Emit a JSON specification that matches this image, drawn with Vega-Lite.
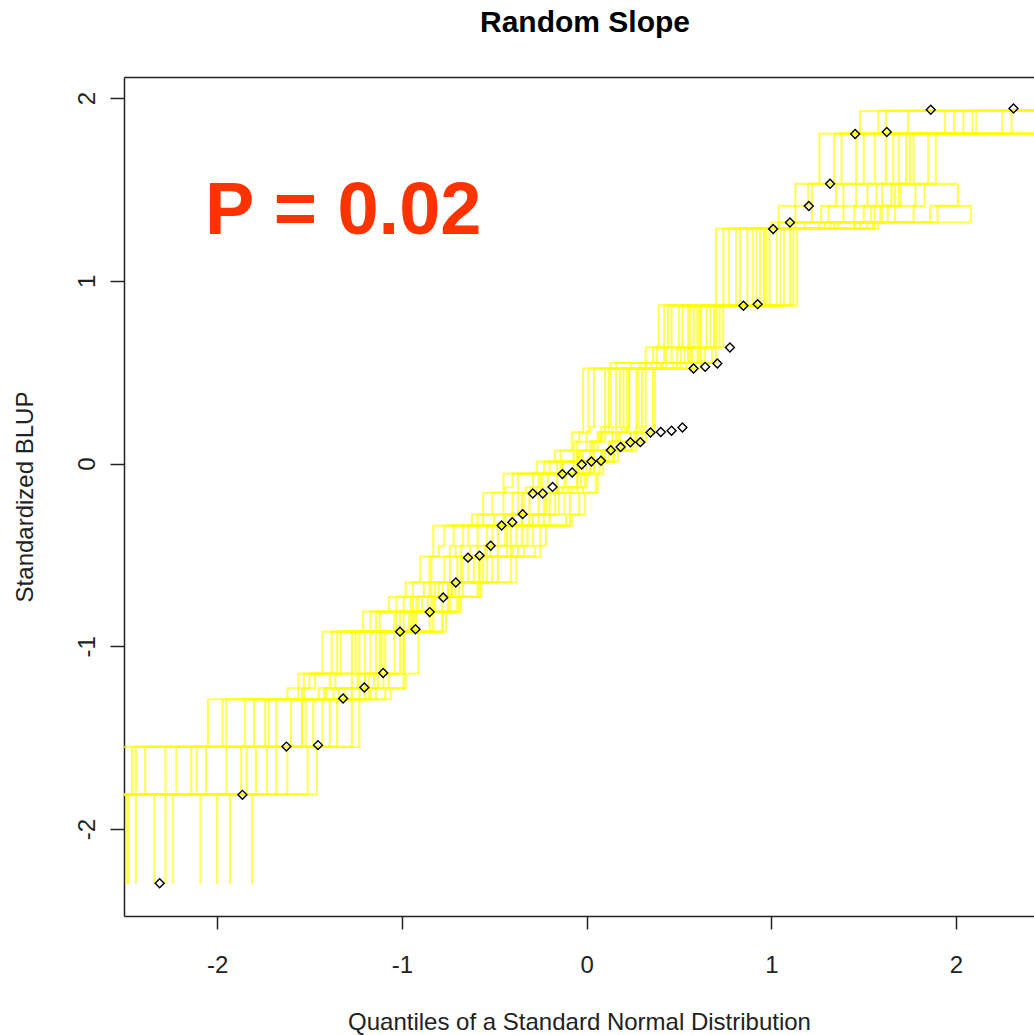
{
"$schema": "https://vega.github.io/schema/vega-lite/v6.json",
"width": 910, "height": 839,
"autosize": "none",
"padding": {"left": 124, "top": 77, "right": 0, "bottom": 119},
"background": "white",
"config": {"view": {"stroke": null}, "font": "Liberation Sans"},
"title": {"text": "Random Slope", "fontSize": 30, "fontWeight": "bold", "font": "Liberation Sans", "color": "#000000", "anchor": "middle", "dx": 6, "offset": 39},
"datasets": {
"env": [
{"s":1,"x":-2.6,"y":-1.55},{"s":1,"x":-2.05,"y":-1.29},{"s":1,"x":-1.62,"y":-1.23},{"s":1,"x":-1.56,"y":-1.15},{"s":1,"x":-1.43,"y":-0.92},{"s":1,"x":-1.21,"y":-0.81},{"s":1,"x":-1.07,"y":-0.73},{"s":1,"x":-0.98,"y":-0.65},{"s":1,"x":-0.9,"y":-0.51},{"s":1,"x":-0.83,"y":-0.34},{"s":1,"x":-0.56,"y":-0.16},{"s":1,"x":-0.45,"y":-0.055},{"s":1,"x":-0.27,"y":0.01},{"s":1,"x":-0.17,"y":0.07},{"s":1,"x":-0.08,"y":0.17},{"s":1,"x":-0.02,"y":0.52},{"s":1,"x":0.32,"y":0.635},{"s":1,"x":0.39,"y":0.865},{"s":1,"x":0.7,"y":1.285},{"s":1,"x":1.04,"y":1.41},{"s":1,"x":1.13,"y":1.53},{"s":1,"x":1.26,"y":1.805},{"s":1,"x":1.48,"y":1.93},{"s":1,"x":2.6,"y":1.93},
{"s":2,"x":-1.81,"y":-2.3},{"s":2,"x":-1.81,"y":-1.81},{"s":2,"x":-1.46,"y":-1.55},{"s":2,"x":-1.23,"y":-1.29},{"s":2,"x":-1.06,"y":-1.23},{"s":2,"x":-0.98,"y":-1.15},{"s":2,"x":-0.91,"y":-0.92},{"s":2,"x":-0.76,"y":-0.81},{"s":2,"x":-0.68,"y":-0.73},{"s":2,"x":-0.57,"y":-0.65},{"s":2,"x":-0.38,"y":-0.51},{"s":2,"x":-0.25,"y":-0.34},{"s":2,"x":-0.08,"y":-0.28},{"s":2,"x":-0.01,"y":-0.16},{"s":2,"x":0.06,"y":-0.055},{"s":2,"x":0.09,"y":0.01},{"s":2,"x":0.17,"y":0.07},{"s":2,"x":0.27,"y":0.12},{"s":2,"x":0.32,"y":0.17},{"s":2,"x":0.37,"y":0.52},{"s":2,"x":0.62,"y":0.55},{"s":2,"x":0.7,"y":0.635},{"s":2,"x":0.74,"y":0.865},{"s":2,"x":1.14,"y":1.285},{"s":2,"x":1.58,"y":1.32},{"s":2,"x":2.08,"y":1.41},
{"s":3,"x":-2.48,"y":-2.3},{"s":3,"x":-2.48,"y":-1.81},{"s":3,"x":-2.39,"y":-1.55},{"s":3,"x":-1.95,"y":-1.29},{"s":3,"x":-1.53,"y":-1.15},{"s":3,"x":-1.35,"y":-0.92},{"s":3,"x":-1.14,"y":-0.81},{"s":3,"x":-0.94,"y":-0.65},{"s":3,"x":-0.84,"y":-0.51},{"s":3,"x":-0.74,"y":-0.45},{"s":3,"x":-0.72,"y":-0.34},{"s":3,"x":-0.59,"y":-0.28},{"s":3,"x":-0.45,"y":-0.16},{"s":3,"x":-0.37,"y":-0.055},{"s":3,"x":-0.2,"y":0.01},{"s":3,"x":-0.05,"y":0.12},{"s":3,"x":0.0,"y":0.17},{"s":3,"x":0.02,"y":0.2},{"s":3,"x":0.04,"y":0.52},{"s":3,"x":0.16,"y":0.55},{"s":3,"x":0.38,"y":0.635},{"s":3,"x":0.44,"y":0.865},{"s":3,"x":0.77,"y":1.285},{"s":3,"x":1.04,"y":1.32},{"s":3,"x":1.22,"y":1.53},{"s":3,"x":1.38,"y":1.805},{"s":3,"x":1.58,"y":1.93},{"s":3,"x":2.6,"y":1.93},
{"s":4,"x":-2.6,"y":-1.81},{"s":4,"x":-2.22,"y":-1.55},{"s":4,"x":-1.8,"y":-1.29},{"s":4,"x":-1.45,"y":-1.23},{"s":4,"x":-1.39,"y":-1.15},{"s":4,"x":-1.27,"y":-0.92},{"s":4,"x":-0.95,"y":-0.73},{"s":4,"x":-0.84,"y":-0.65},{"s":4,"x":-0.74,"y":-0.51},{"s":4,"x":-0.68,"y":-0.45},{"s":4,"x":-0.64,"y":-0.34},{"s":4,"x":-0.4,"y":-0.16},{"s":4,"x":-0.33,"y":-0.13},{"s":4,"x":-0.29,"y":-0.055},{"s":4,"x":-0.16,"y":0.01},{"s":4,"x":-0.07,"y":0.07},{"s":4,"x":0.0,"y":0.12},{"s":4,"x":0.08,"y":0.2},{"s":4,"x":0.1,"y":0.52},{"s":4,"x":0.43,"y":0.635},{"s":4,"x":0.5,"y":0.865},{"s":4,"x":0.83,"y":1.285},{"s":4,"x":1.13,"y":1.32},{"s":4,"x":1.31,"y":1.41},{"s":4,"x":1.39,"y":1.53},{"s":4,"x":1.5,"y":1.805},{"s":4,"x":2.6,"y":1.805},
{"s":5,"x":-2.24,"y":-2.3},{"s":5,"x":-2.24,"y":-1.81},{"s":5,"x":-2.06,"y":-1.55},{"s":5,"x":-1.68,"y":-1.29},{"s":5,"x":-1.37,"y":-1.23},{"s":5,"x":-1.2,"y":-0.92},{"s":5,"x":-1.01,"y":-0.81},{"s":5,"x":-0.89,"y":-0.73},{"s":5,"x":-0.8,"y":-0.65},{"s":5,"x":-0.67,"y":-0.51},{"s":5,"x":-0.54,"y":-0.34},{"s":5,"x":-0.41,"y":-0.28},{"s":5,"x":-0.31,"y":-0.16},{"s":5,"x":-0.24,"y":-0.13},{"s":5,"x":-0.21,"y":-0.055},{"s":5,"x":-0.02,"y":0.07},{"s":5,"x":0.06,"y":0.12},{"s":5,"x":0.1,"y":0.17},{"s":5,"x":0.16,"y":0.52},{"s":5,"x":0.32,"y":0.55},{"s":5,"x":0.49,"y":0.635},{"s":5,"x":0.55,"y":0.865},{"s":5,"x":0.9,"y":1.285},{"s":5,"x":1.45,"y":1.41},{"s":5,"x":1.52,"y":1.53},{"s":5,"x":1.62,"y":1.805},{"s":5,"x":1.94,"y":1.93},{"s":5,"x":2.6,"y":1.93},
{"s":6,"x":-2.6,"y":-1.81},{"s":6,"x":-1.95,"y":-1.55},{"s":6,"x":-1.6,"y":-1.29},{"s":6,"x":-1.31,"y":-1.23},{"s":6,"x":-1.24,"y":-1.15},{"s":6,"x":-1.14,"y":-0.92},{"s":6,"x":-0.96,"y":-0.81},{"s":6,"x":-0.75,"y":-0.65},{"s":6,"x":-0.61,"y":-0.51},{"s":6,"x":-0.52,"y":-0.45},{"s":6,"x":-0.48,"y":-0.34},{"s":6,"x":-0.35,"y":-0.28},{"s":6,"x":-0.26,"y":-0.16},{"s":6,"x":-0.16,"y":-0.055},{"s":6,"x":-0.07,"y":0.01},{"s":6,"x":0.02,"y":0.07},{"s":6,"x":0.14,"y":0.17},{"s":6,"x":0.19,"y":0.2},{"s":6,"x":0.2,"y":0.52},{"s":6,"x":0.38,"y":0.55},{"s":6,"x":0.53,"y":0.635},{"s":6,"x":0.58,"y":0.865},{"s":6,"x":0.94,"y":1.285},{"s":6,"x":1.29,"y":1.32},{"s":6,"x":1.54,"y":1.41},{"s":6,"x":1.69,"y":1.805},{"s":6,"x":2.04,"y":1.93},{"s":6,"x":2.6,"y":1.93},
{"s":7,"x":-2.09,"y":-2.3},{"s":7,"x":-2.09,"y":-1.81},{"s":7,"x":-1.84,"y":-1.55},{"s":7,"x":-1.52,"y":-1.29},{"s":7,"x":-1.18,"y":-1.15},{"s":7,"x":-1.09,"y":-0.92},{"s":7,"x":-0.92,"y":-0.81},{"s":7,"x":-0.82,"y":-0.73},{"s":7,"x":-0.71,"y":-0.65},{"s":7,"x":-0.56,"y":-0.51},{"s":7,"x":-0.41,"y":-0.34},{"s":7,"x":-0.29,"y":-0.28},{"s":7,"x":-0.2,"y":-0.16},{"s":7,"x":-0.13,"y":-0.13},{"s":7,"x":-0.11,"y":-0.055},{"s":7,"x":-0.04,"y":0.01},{"s":7,"x":0.14,"y":0.12},{"s":7,"x":0.18,"y":0.17},{"s":7,"x":0.23,"y":0.52},{"s":7,"x":0.57,"y":0.635},{"s":7,"x":0.62,"y":0.865},{"s":7,"x":0.99,"y":1.285},{"s":7,"x":1.36,"y":1.32},{"s":7,"x":1.63,"y":1.41},{"s":7,"x":1.7,"y":1.53},{"s":7,"x":1.77,"y":1.805},{"s":7,"x":2.6,"y":1.805},
{"s":8,"x":-2.6,"y":-1.81},{"s":8,"x":-1.73,"y":-1.55},{"s":8,"x":-1.43,"y":-1.29},{"s":8,"x":-1.2,"y":-1.23},{"s":8,"x":-1.13,"y":-1.15},{"s":8,"x":-1.04,"y":-0.92},{"s":8,"x":-0.78,"y":-0.73},{"s":8,"x":-0.67,"y":-0.65},{"s":8,"x":-0.51,"y":-0.51},{"s":8,"x":-0.4,"y":-0.45},{"s":8,"x":-0.35,"y":-0.34},{"s":8,"x":-0.23,"y":-0.28},{"s":8,"x":-0.15,"y":-0.16},{"s":8,"x":-0.08,"y":-0.13},{"s":8,"x":-0.05,"y":-0.055},{"s":8,"x":0.0,"y":0.01},{"s":8,"x":0.09,"y":0.07},{"s":8,"x":0.18,"y":0.12},{"s":8,"x":0.27,"y":0.2},{"s":8,"x":0.28,"y":0.52},{"s":8,"x":0.49,"y":0.55},{"s":8,"x":0.61,"y":0.635},{"s":8,"x":0.65,"y":0.865},{"s":8,"x":1.03,"y":1.285},{"s":8,"x":1.56,"y":1.41},{"s":8,"x":1.78,"y":1.53},{"s":8,"x":1.85,"y":1.805},{"s":8,"x":2.25,"y":1.93},{"s":8,"x":2.6,"y":1.93},
{"s":9,"x":-1.93,"y":-2.3},{"s":9,"x":-1.93,"y":-1.81},{"s":9,"x":-1.62,"y":-1.55},{"s":9,"x":-1.35,"y":-1.29},{"s":9,"x":-1.14,"y":-1.23},{"s":9,"x":-1.07,"y":-1.15},{"s":9,"x":-0.99,"y":-0.92},{"s":9,"x":-0.83,"y":-0.81},{"s":9,"x":-0.74,"y":-0.73},{"s":9,"x":-0.58,"y":-0.51},{"s":9,"x":-0.34,"y":-0.45},{"s":9,"x":-0.29,"y":-0.34},{"s":9,"x":-0.09,"y":-0.16},{"s":9,"x":-0.02,"y":-0.13},{"s":9,"x":0.0,"y":-0.055},{"s":9,"x":0.04,"y":0.01},{"s":9,"x":0.12,"y":0.07},{"s":9,"x":0.21,"y":0.12},{"s":9,"x":0.26,"y":0.17},{"s":9,"x":0.31,"y":0.2},{"s":9,"x":0.32,"y":0.52},{"s":9,"x":0.54,"y":0.55},{"s":9,"x":0.64,"y":0.635},{"s":9,"x":0.69,"y":0.865},{"s":9,"x":1.07,"y":1.285},{"s":9,"x":1.48,"y":1.32},{"s":9,"x":1.6,"y":1.53},{"s":9,"x":2.01,"y":1.53},
{"s":10,"x":-2.6,"y":-1.81},{"s":10,"x":-1.51,"y":-1.55},{"s":10,"x":-1.27,"y":-1.29},{"s":10,"x":-1.09,"y":-1.23},{"s":10,"x":-0.99,"y":-0.92},{"s":10,"x":-0.78,"y":-0.81},{"s":10,"x":-0.7,"y":-0.73},{"s":10,"x":-0.59,"y":-0.65},{"s":10,"x":-0.41,"y":-0.51},{"s":10,"x":-0.28,"y":-0.45},{"s":10,"x":-0.22,"y":-0.34},{"s":10,"x":-0.11,"y":-0.28},{"s":10,"x":-0.04,"y":-0.16},{"s":10,"x":0.05,"y":-0.055},{"s":10,"x":0.07,"y":0.01},{"s":10,"x":0.15,"y":0.07},{"s":10,"x":0.25,"y":0.12},{"s":10,"x":0.3,"y":0.17},{"s":10,"x":0.35,"y":0.2},{"s":10,"x":0.36,"y":0.52},{"s":10,"x":0.59,"y":0.55},{"s":10,"x":0.68,"y":0.635},{"s":10,"x":0.72,"y":0.865},{"s":10,"x":1.12,"y":1.285},{"s":10,"x":1.55,"y":1.32},{"s":10,"x":1.9,"y":1.41},{"s":10,"x":2.01,"y":1.53},
{"s":11,"x":-2.44,"y":-2.3},{"s":11,"x":-2.44,"y":-1.81},{"s":11,"x":-2.28,"y":-1.55},{"s":11,"x":-1.85,"y":-1.29},{"s":11,"x":-1.42,"y":-1.23},{"s":11,"x":-1.36,"y":-1.15},{"s":11,"x":-1.25,"y":-0.92},{"s":11,"x":-1.03,"y":-0.81},{"s":11,"x":-0.91,"y":-0.73},{"s":11,"x":-0.78,"y":-0.65},{"s":11,"x":-0.64,"y":-0.51},{"s":11,"x":-0.55,"y":-0.45},{"s":11,"x":-0.51,"y":-0.34},{"s":11,"x":-0.35,"y":-0.28},{"s":11,"x":-0.23,"y":-0.16},{"s":11,"x":-0.16,"y":-0.13},{"s":11,"x":-0.05,"y":0.01},{"s":11,"x":0.03,"y":0.07},{"s":11,"x":0.12,"y":0.12},{"s":11,"x":0.16,"y":0.17},{"s":11,"x":0.22,"y":0.52},{"s":11,"x":0.4,"y":0.55},{"s":11,"x":0.55,"y":0.635},{"s":11,"x":0.6,"y":0.865},{"s":11,"x":0.96,"y":1.285},{"s":11,"x":1.32,"y":1.32},{"s":11,"x":1.59,"y":1.41},{"s":11,"x":1.65,"y":1.53},{"s":11,"x":1.73,"y":1.805},{"s":11,"x":2.09,"y":1.93},{"s":11,"x":2.6,"y":1.93},
{"s":12,"x":-2.6,"y":-1.81},{"s":12,"x":-1.79,"y":-1.55},{"s":12,"x":-1.48,"y":-1.29},{"s":12,"x":-1.23,"y":-1.23},{"s":12,"x":-1.15,"y":-1.15},{"s":12,"x":-1.12,"y":-0.92},{"s":12,"x":-0.94,"y":-0.81},{"s":12,"x":-0.86,"y":-0.73},{"s":12,"x":-0.75,"y":-0.65},{"s":12,"x":-0.68,"y":-0.51},{"s":12,"x":-0.59,"y":-0.45},{"s":12,"x":-0.44,"y":-0.28},{"s":12,"x":-0.34,"y":-0.16},{"s":12,"x":-0.27,"y":-0.13},{"s":12,"x":-0.24,"y":-0.055},{"s":12,"x":-0.14,"y":0.01},{"s":12,"x":-0.05,"y":0.07},{"s":12,"x":0.02,"y":0.12},{"s":12,"x":0.06,"y":0.17},{"s":12,"x":0.1,"y":0.2},{"s":12,"x":0.12,"y":0.52},{"s":12,"x":0.24,"y":0.55},{"s":12,"x":0.42,"y":0.635},{"s":12,"x":0.46,"y":0.865},{"s":12,"x":0.81,"y":1.285},{"s":12,"x":1.1,"y":1.32},{"s":12,"x":1.27,"y":1.41},{"s":12,"x":1.35,"y":1.53},{"s":12,"x":1.46,"y":1.805},{"s":12,"x":1.74,"y":1.93},{"s":12,"x":2.6,"y":1.93},
{"s":13,"x":-2.28,"y":-2.3},{"s":13,"x":-2.28,"y":-1.81},{"s":13,"x":-2.11,"y":-1.55},{"s":13,"x":-1.72,"y":-1.29},{"s":13,"x":-1.34,"y":-1.23},{"s":13,"x":-1.27,"y":-1.15},{"s":13,"x":-1.17,"y":-0.92},{"s":13,"x":-0.99,"y":-0.81},{"s":13,"x":-0.84,"y":-0.73},{"s":13,"x":-0.73,"y":-0.65},{"s":13,"x":-0.54,"y":-0.51},{"s":13,"x":-0.43,"y":-0.45},{"s":13,"x":-0.38,"y":-0.34},{"s":13,"x":-0.26,"y":-0.28},{"s":13,"x":-0.17,"y":-0.16},{"s":13,"x":-0.1,"y":-0.13},{"s":13,"x":-0.03,"y":-0.055},{"s":13,"x":0.02,"y":0.01},{"s":13,"x":0.1,"y":0.07},{"s":13,"x":0.24,"y":0.17},{"s":13,"x":0.29,"y":0.2},{"s":13,"x":0.3,"y":0.52},{"s":13,"x":0.51,"y":0.55},{"s":13,"x":0.62,"y":0.635},{"s":13,"x":0.7,"y":0.865},{"s":13,"x":1.1,"y":1.285},{"s":13,"x":1.52,"y":1.32},{"s":13,"x":1.86,"y":1.41},{"s":13,"x":2.08,"y":1.41},
{"s":14,"x":-2.49,"y":-2.3},{"s":14,"x":-2.49,"y":-1.81},{"s":14,"x":-2.44,"y":-1.55},{"s":14,"x":-1.54,"y":-1.23},{"s":14,"x":-1.47,"y":-1.15},{"s":14,"x":-1.33,"y":-0.92},{"s":14,"x":-1.12,"y":-0.81},{"s":14,"x":-0.99,"y":-0.73},{"s":14,"x":-0.88,"y":-0.65},{"s":14,"x":-0.77,"y":-0.51},{"s":14,"x":-0.71,"y":-0.45},{"s":14,"x":-0.67,"y":-0.34},{"s":14,"x":-0.5,"y":-0.28},{"s":14,"x":-0.37,"y":-0.16},{"s":14,"x":-0.3,"y":-0.13},{"s":14,"x":-0.26,"y":-0.055},{"s":14,"x":-0.13,"y":0.01},{"s":14,"x":-0.03,"y":0.07},{"s":14,"x":0.04,"y":0.12},{"s":14,"x":0.08,"y":0.17},{"s":14,"x":0.14,"y":0.2},{"s":14,"x":0.18,"y":0.52},{"s":14,"x":0.35,"y":0.55},{"s":14,"x":0.51,"y":0.635},{"s":14,"x":0.56,"y":0.865},{"s":14,"x":0.92,"y":1.285},{"s":14,"x":1.26,"y":1.32},{"s":14,"x":1.5,"y":1.41},{"s":14,"x":1.57,"y":1.53},{"s":14,"x":1.66,"y":1.805},{"s":14,"x":1.99,"y":1.93},{"s":14,"x":2.6,"y":1.93},
{"s":15,"x":-2.6,"y":-1.81},{"s":15,"x":-2.46,"y":-1.55},{"s":15,"x":-1.97,"y":-1.29},{"s":15,"x":-1.56,"y":-1.23},{"s":15,"x":-1.5,"y":-1.15},{"s":15,"x":-1.38,"y":-0.92},{"s":15,"x":-1.17,"y":-0.81},{"s":15,"x":-1.03,"y":-0.73},{"s":15,"x":-0.85,"y":-0.51},{"s":15,"x":-0.8,"y":-0.45},{"s":15,"x":-0.77,"y":-0.34},{"s":15,"x":-0.62,"y":-0.28},{"s":15,"x":-0.51,"y":-0.16},{"s":15,"x":-0.44,"y":-0.13},{"s":15,"x":-0.4,"y":-0.055},{"s":15,"x":-0.23,"y":0.01},{"s":15,"x":-0.14,"y":0.07},{"s":15,"x":-0.07,"y":0.12},{"s":15,"x":-0.04,"y":0.17},{"s":15,"x":0.01,"y":0.52},{"s":15,"x":0.13,"y":0.55},{"s":15,"x":0.36,"y":0.635},{"s":15,"x":0.42,"y":0.865},{"s":15,"x":0.74,"y":1.285},{"s":15,"x":1.0,"y":1.32},{"s":15,"x":1.13,"y":1.41},{"s":15,"x":1.2,"y":1.53},{"s":15,"x":1.34,"y":1.805},{"s":15,"x":1.62,"y":1.93},{"s":15,"x":2.6,"y":1.93},
{"s":16,"x":-2.34,"y":-2.3},{"s":16,"x":-2.34,"y":-1.81},{"s":16,"x":-2.14,"y":-1.55},{"s":16,"x":-1.74,"y":-1.29},{"s":16,"x":-1.41,"y":-1.23},{"s":16,"x":-1.23,"y":-0.92},{"s":16,"x":-1.04,"y":-0.81},{"s":16,"x":-0.92,"y":-0.73},{"s":16,"x":-0.82,"y":-0.65},{"s":16,"x":-0.7,"y":-0.51},{"s":16,"x":-0.63,"y":-0.45},{"s":16,"x":-0.59,"y":-0.34},{"s":16,"x":-0.45,"y":-0.28},{"s":16,"x":-0.35,"y":-0.16},{"s":16,"x":-0.25,"y":-0.055},{"s":16,"x":-0.13,"y":0.01},{"s":16,"x":-0.04,"y":0.07},{"s":16,"x":0.03,"y":0.12},{"s":16,"x":0.07,"y":0.17},{"s":16,"x":0.12,"y":0.2},{"s":16,"x":0.13,"y":0.52},{"s":16,"x":0.29,"y":0.55},{"s":16,"x":0.46,"y":0.635},{"s":16,"x":0.52,"y":0.865},{"s":16,"x":0.87,"y":1.285},{"s":16,"x":1.18,"y":1.32},{"s":16,"x":1.39,"y":1.41},{"s":16,"x":1.46,"y":1.53},{"s":16,"x":1.56,"y":1.805},{"s":16,"x":2.6,"y":1.805},
{"s":17,"x":-2.6,"y":-1.81},{"s":17,"x":-1.87,"y":-1.55},{"s":17,"x":-1.54,"y":-1.29},{"s":17,"x":-1.27,"y":-1.23},{"s":17,"x":-1.2,"y":-1.15},{"s":17,"x":-1.11,"y":-0.92},{"s":17,"x":-0.93,"y":-0.81},{"s":17,"x":-0.83,"y":-0.73},{"s":17,"x":-0.73,"y":-0.65},{"s":17,"x":-0.58,"y":-0.51},{"s":17,"x":-0.48,"y":-0.45},{"s":17,"x":-0.43,"y":-0.34},{"s":17,"x":-0.31,"y":-0.28},{"s":17,"x":-0.22,"y":-0.16},{"s":17,"x":-0.15,"y":-0.13},{"s":17,"x":-0.12,"y":-0.055},{"s":17,"x":0.04,"y":0.07},{"s":17,"x":0.13,"y":0.12},{"s":17,"x":0.17,"y":0.17},{"s":17,"x":0.21,"y":0.2},{"s":17,"x":0.23,"y":0.52},{"s":17,"x":0.41,"y":0.55},{"s":17,"x":0.56,"y":0.635},{"s":17,"x":0.61,"y":0.865},{"s":17,"x":0.97,"y":1.285},{"s":17,"x":1.34,"y":1.32},{"s":17,"x":1.67,"y":1.53},{"s":17,"x":1.75,"y":1.805},{"s":17,"x":2.11,"y":1.93},{"s":17,"x":2.6,"y":1.93},
{"s":18,"x":-2.0,"y":-2.3},{"s":18,"x":-2.0,"y":-1.81},{"s":18,"x":-1.68,"y":-1.55},{"s":18,"x":-1.39,"y":-1.29},{"s":18,"x":-1.17,"y":-1.23},{"s":18,"x":-1.1,"y":-1.15},{"s":18,"x":-1.01,"y":-0.92},{"s":18,"x":-0.85,"y":-0.81},{"s":18,"x":-0.69,"y":-0.65},{"s":18,"x":-0.48,"y":-0.51},{"s":18,"x":-0.37,"y":-0.45},{"s":18,"x":-0.32,"y":-0.34},{"s":18,"x":-0.2,"y":-0.28},{"s":18,"x":-0.12,"y":-0.16},{"s":18,"x":-0.05,"y":-0.13},{"s":18,"x":-0.01,"y":-0.055},{"s":18,"x":0.02,"y":0.01},{"s":18,"x":0.08,"y":0.07},{"s":18,"x":0.19,"y":0.12},{"s":18,"x":0.24,"y":0.17},{"s":18,"x":0.27,"y":0.52},{"s":18,"x":0.47,"y":0.55},{"s":18,"x":0.6,"y":0.635},{"s":18,"x":0.67,"y":0.865},{"s":18,"x":1.05,"y":1.285},{"s":18,"x":1.45,"y":1.32},{"s":18,"x":1.77,"y":1.41},{"s":18,"x":1.83,"y":1.53},{"s":18,"x":1.89,"y":1.805},{"s":18,"x":2.3,"y":1.93},{"s":18,"x":2.6,"y":1.93}
],
"pts": [
{"x":-2.311,"y":-2.297},{"x":-1.863,"y":-1.813},{"x":-1.625,"y":-1.549},{"x":-1.454,"y":-1.541},{"x":-1.318,"y":-1.286},{"x":-1.203,"y":-1.226},{"x":-1.101,"y":-1.146},{"x":-1.010,"y":-0.920},{"x":-0.926,"y":-0.907},{"x":-0.849,"y":-0.813},{"x":-0.776,"y":-0.733},{"x":-0.708,"y":-0.651},{"x":-0.642,"y":-0.515},{"x":-0.579,"y":-0.504},{"x":-0.519,"y":-0.450},{"x":-0.460,"y":-0.339},{"x":-0.402,"y":-0.321},{"x":-0.346,"y":-0.277},{"x":-0.291,"y":-0.164},{"x":-0.237,"y":-0.164},{"x":-0.184,"y":-0.128},{"x":-0.131,"y":-0.058},{"x":-0.078,"y":-0.049},{"x":-0.026,"y":-0.005},
{"x":0.026,"y":0.011},{"x":0.078,"y":0.015},{"x":0.131,"y":0.073},{"x":0.184,"y":0.090},{"x":0.237,"y":0.116},{"x":0.291,"y":0.117},{"x":0.346,"y":0.170},{"x":0.402,"y":0.172},{"x":0.460,"y":0.179},{"x":0.519,"y":0.197},{"x":0.579,"y":0.520},{"x":0.642,"y":0.529},{"x":0.708,"y":0.547},{"x":0.776,"y":0.635},{"x":0.849,"y":0.863},{"x":0.926,"y":0.872},{"x":1.010,"y":1.283},{"x":1.101,"y":1.319},{"x":1.203,"y":1.409},{"x":1.318,"y":1.531},{"x":1.454,"y":1.803},{"x":1.625,"y":1.814},{"x":1.863,"y":1.936},{"x":2.311,"y":1.943}
],
"ann": [{"x": -2.065, "y": 1.257, "label": "P = 0.02"}]
},
"layer": [
{
"data": {"name": "env"},
"mark": {"type": "line", "interpolate": "step-after", "clip": true, "color": "#FFFF00", "strokeWidth": 2.2, "opacity": 0.65},
"encoding": {
"x": {"field": "x", "type": "quantitative", "scale": {"domain": [-2.504, 2.422], "nice": false, "zero": false},
"axis": {"orient": "bottom", "values": [-2, -1, 0, 1, 2], "labelExpr": "'' + datum.value", "title": "Quantiles of a Standard Normal Distribution", "grid": false, "domain": true, "domainColor": "#222222", "domainWidth": 1.5, "ticks": true, "tickColor": "#222222", "tickWidth": 1.5, "tickSize": 13, "labelFontSize": 24, "labelColor": "#222222", "labelPadding": 24, "labelFont": "Liberation Sans", "labelFlush": false, "labelOverlap": false, "titleFont": "Liberation Sans", "titleFontSize": 24, "titleFontWeight": "normal", "titleColor": "#222222", "titlePadding": 33}},
"y": {"field": "y", "type": "quantitative", "scale": {"domain": [-2.476, 2.115], "nice": false, "zero": false},
"axis": {"orient": "left", "values": [-2, -1, 0, 1, 2], "labelExpr": "'' + datum.value", "title": "Standardized BLUP", "grid": false, "domain": true, "domainColor": "#222222", "domainWidth": 1.5, "ticks": true, "tickColor": "#222222", "tickWidth": 1.5, "tickSize": 14, "labelFontSize": 24, "labelColor": "#222222", "labelPadding": 16, "labelAngle": 270, "labelAlign": "center", "labelBaseline": "alphabetic", "labelFont": "Liberation Sans", "labelFlush": false, "labelOverlap": false, "titleFont": "Liberation Sans", "titleFontSize": 24, "titleFontWeight": "normal", "titleColor": "#222222", "titlePadding": 38}},
"detail": {"field": "s", "type": "nominal"},
"order": [{"field": "x", "type": "quantitative"}, {"field": "y", "type": "quantitative"}]
}
},
{
"data": {"name": "pts"},
"mark": {"type": "point", "shape": "diamond", "size": 80, "filled": false, "color": "#000000", "strokeWidth": 1.4, "opacity": 1},
"encoding": {
"x": {"field": "x", "type": "quantitative", "scale": {"domain": [-2.504, 2.422], "nice": false, "zero": false},
"axis": {"orient": "top", "values": [], "labels": false, "ticks": false, "title": null, "grid": false, "domain": true, "domainColor": "#222222", "domainWidth": 1.5}},
"y": {"field": "y", "type": "quantitative", "scale": {"domain": [-2.476, 2.115], "nice": false, "zero": false}, "axis": null}
}
},
{
"data": {"name": "ann"},
"mark": {"type": "text", "align": "left", "baseline": "alphabetic", "font": "Liberation Sans", "fontSize": 74, "fontWeight": "bold", "color": "#FF3300"},
"encoding": {
"x": {"field": "x", "type": "quantitative", "scale": {"domain": [-2.504, 2.422], "nice": false, "zero": false}, "axis": null},
"y": {"field": "y", "type": "quantitative", "scale": {"domain": [-2.476, 2.115], "nice": false, "zero": false}, "axis": null},
"text": {"field": "label"}
}
}
],
"resolve": {"axis": {"x": "independent", "y": "independent"}}
}
